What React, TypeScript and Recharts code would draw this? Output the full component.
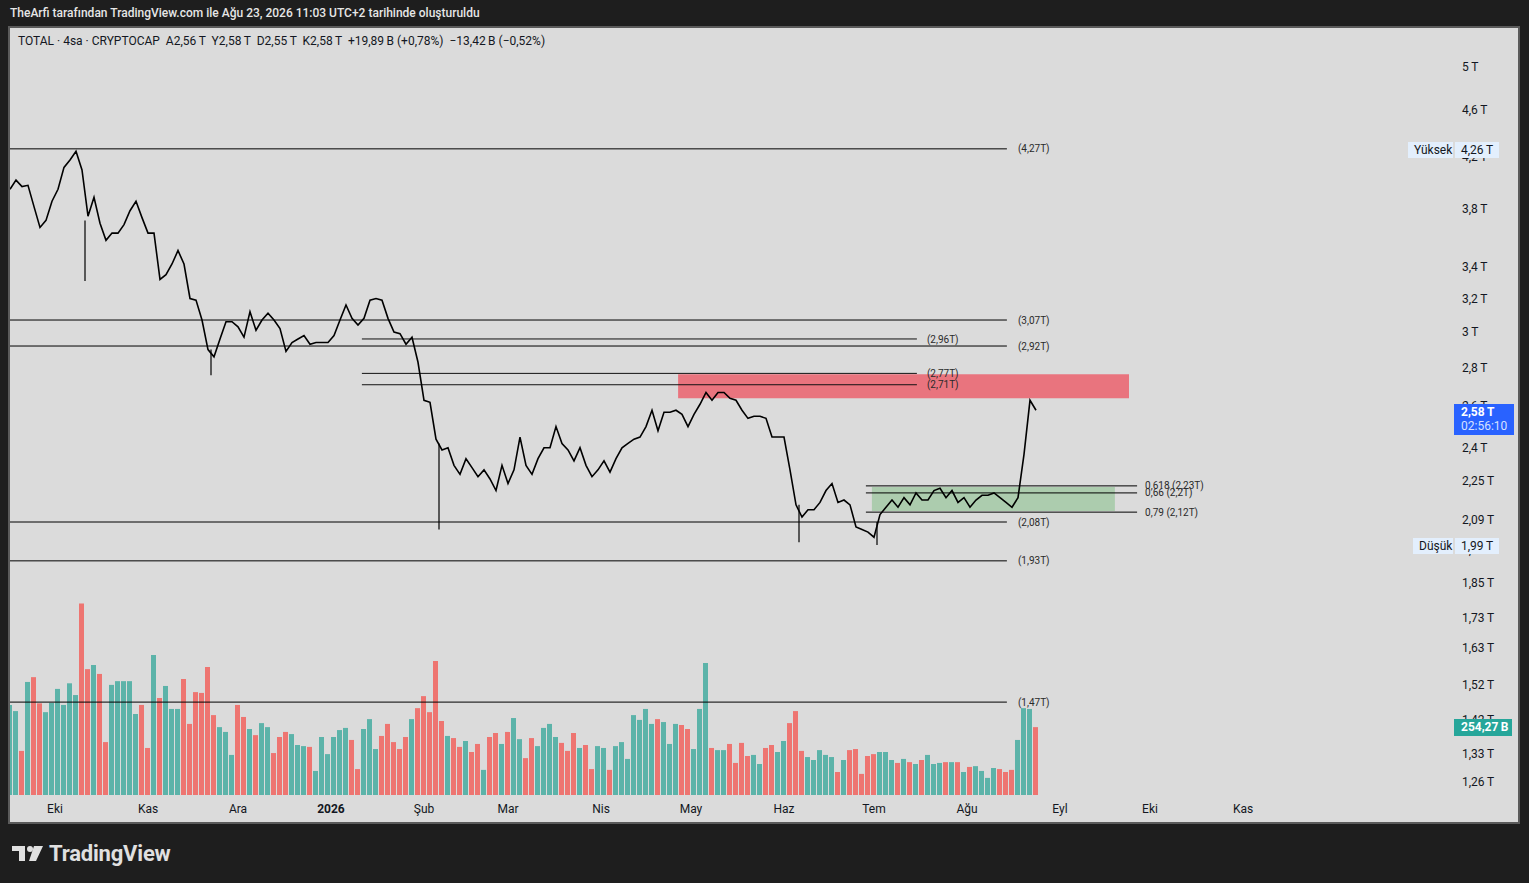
import React from "react"
import { ComposedChart, Line, Bar, Cell, XAxis, YAxis, ReferenceLine, ReferenceArea } from "recharts"

// gün 0 = 1 Eki 2025, veriler 2 günlük adımla (16 Eyl 2025 -> 23 Ağu 2026)
const firstDay = -15
const dayStep = 2

// kapanış, trilyon $
const closes = [
  3.95, 4.02, 3.97, 3.98, 3.82, 3.67, 3.72, 3.86, 3.95, 4.12,
  4.18, 4.25, 4.1, 3.75, 3.89, 3.7, 3.58, 3.63, 3.63, 3.69,
  3.79, 3.86, 3.74, 3.63, 3.63, 3.32, 3.35, 3.42, 3.51, 3.42,
  3.2, 3.19, 3.07, 2.9, 2.86, 2.96, 3.06, 3.06, 3.03, 2.97,
  3.12, 3.01, 3.07, 3.11, 3.07, 3.02, 2.89, 2.94, 2.96, 2.98,
  2.93, 2.94, 2.94, 2.94, 2.98, 3.07, 3.16, 3.08, 3.04, 3.08,
  3.19, 3.2, 3.19, 3.08, 3.0, 2.99, 2.93, 2.97, 2.83, 2.63,
  2.62, 2.44, 2.39, 2.4, 2.32, 2.28, 2.35, 2.31, 2.27, 2.3,
  2.26, 2.21, 2.32, 2.24, 2.3, 2.45, 2.32, 2.28, 2.35, 2.4,
  2.4, 2.5, 2.42, 2.39, 2.34, 2.4, 2.32, 2.27, 2.3, 2.34,
  2.29, 2.35, 2.4, 2.42, 2.44, 2.45, 2.5, 2.58, 2.48, 2.57,
  2.57, 2.58, 2.56, 2.5, 2.56, 2.61, 2.67, 2.63, 2.67, 2.67,
  2.64, 2.63, 2.58, 2.54, 2.55, 2.55, 2.54, 2.45, 2.45, 2.45,
  2.3, 2.15, 2.1, 2.13, 2.13, 2.16, 2.21, 2.24, 2.16, 2.17,
  2.15, 2.06, 2.05, 2.04, 2.02, 2.11, 2.14, 2.17, 2.14, 2.18,
  2.15, 2.2, 2.17, 2.17, 2.21, 2.22, 2.18, 2.21, 2.16, 2.18,
  2.14, 2.17, 2.19, 2.19, 2.2, 2.18, 2.16, 2.14, 2.18, 2.37,
  2.63, 2.58,
]

// hacim, milyar $
const volumes = [
  337, 314, 165, 423, 441, 343, 310, 345, 397, 337,
  418, 374, 717, 471, 486, 453, 198, 412, 426, 426,
  426, 303, 337, 176, 524, 363, 408, 322, 322, 434,
  266, 385, 382, 479, 299, 254, 236, 150, 337, 292,
  247, 224, 269, 254, 157, 217, 236, 228, 187, 183,
  180, 90, 217, 153, 217, 243, 251, 206, 97, 247,
  284, 172, 221, 266, 198, 172, 217, 284, 325, 370,
  310, 501, 277, 221, 213, 180, 202, 161, 191, 94,
  217, 232, 191, 236, 288, 209, 138, 213, 183, 251,
  266, 217, 195, 165, 232, 176, 187, 97, 183, 176,
  94, 183, 198, 135, 299, 281, 322, 266, 284, 273,
  191, 266, 262, 247, 172, 322, 494, 176, 168, 168,
  191, 120, 195, 146, 150, 116, 176, 187, 161, 202,
  269, 314, 165, 142, 131, 168, 150, 142, 86, 131,
  168, 172, 79, 146, 153, 161, 161, 131, 120, 135,
  123, 116, 131, 150, 116, 120, 123, 123, 123, 86,
  105, 108, 90, 64, 101, 97, 86, 94, 206, 325,
  322, 254,
]

// uzun fitiller
const wicks = [
  { day: 10, high: 3.72, low: 3.31 },
  { day: 52, high: 2.9, low: 2.76 },
  { day: 128, high: 2.42, low: 2.05 },
  { day: 248, high: 2.15, low: 2.0 },
  { day: 274, high: 2.08, low: 1.99 },
]

const monthDays = [0, 31, 61, 92, 123, 151, 182, 212, 243, 273, 304, 335, 365, 396]
const monthNames = ["Eki", "Kas", "Ara", "2026", "Şub", "Mar", "Nis", "May", "Haz", "Tem", "Ağu", "Eyl", "Eki", "Kas"]
const priceTicks = [1.26, 1.33, 1.42, 1.52, 1.63, 1.73, 1.85, 1.97, 2.09, 2.25, 2.4, 2.6, 2.8, 3, 3.2, 3.4, 3.8, 4.2, 4.6, 5]

const longLevels = [4.27, 3.07, 2.92, 2.08, 1.93, 1.47]
const shortLevels = [2.96, 2.77, 2.71]
const fibLevels = [
  { ratio: "0,618", value: 2.23 },
  { ratio: "0,66", value: 2.2 },
  { ratio: "0,79", value: 2.12 },
]

const TEAL = "#5cb3a9"
const RED = "#ee7571"
const FONT = "Roboto, 'Liberation Sans', sans-serif"

const comma = (v: number) => String(v).replace(".", ",")

const data = closes.map((close, i) => ({
  day: firstDay + i * dayStep,
  close,
  volume: volumes[i],
  up: i === 0 || close >= closes[i - 1],
}))

function MonthTick(props: any) {
  const { x, index } = props
  return (
    <text x={x} y={785} textAnchor="middle" fontSize={12} fill="#131722" fontFamily={FONT} fontWeight={monthNames[index] === "2026" ? 700 : 400}>
      {monthNames[index]}
    </text>
  )
}

function PriceTick(props: any) {
  const { y, payload } = props
  return (
    <text x={1452} y={y + 4} fontSize={12} fill="#131722" fontFamily={FONT}>
      {comma(payload.value)}{"\u2009"}T
    </text>
  )
}

const lineLabel = (text: string, offset: number) => ({
  value: text,
  position: "right" as const,
  offset,
  fontSize: 10,
  fill: "#2a2a2a",
  fontFamily: FONT,
})

function Badge({ left, top, width, height, bg, color, children }: any) {
  return (
    <div style={{ position: "absolute", left, top, width, height, background: bg, color, fontSize: 12, fontFamily: FONT, lineHeight: height + "px", paddingLeft: 6, boxSizing: "border-box" }}>
      {children}
    </div>
  )
}

export default function App() {
  return (
    <div style={{ position: "fixed", left: 0, top: 0, width: 1529, height: 883, background: "#1e1e1e", overflow: "hidden", fontFamily: FONT }}>
      <div style={{ position: "absolute", left: 10, top: 6, color: "#e6e6e6", fontSize: 12, fontWeight: 500 }}>
        TheArfi tarafından TradingView.com ile Ağu 23, 2026 11:03 UTC+2 tarihinde oluşturuldu
      </div>

      <div style={{ position: "absolute", left: 8, top: 26, width: 1512, height: 798, border: "2px solid #5a5a5a", boxSizing: "border-box", background: "#dbdbdb" }} />

      <div style={{ position: "absolute", left: 10, top: 28 }}>
        <ComposedChart width={1508} height={794} data={data} margin={{ top: 0, right: 0, bottom: 0, left: 0 }}>
          <XAxis dataKey="day" type="number" domain={[-15, 465]} ticks={monthDays} interval={0} tick={<MonthTick />} tickLine={false} axisLine={false} height={27} allowDataOverflow />
          <YAxis yAxisId="price" orientation="right" scale="log" domain={[1.229, 5.39]} ticks={priceTicks} interval={0} width={68} tick={<PriceTick />} tickLine={false} axisLine={false} allowDataOverflow />
          <YAxis yAxisId="vol" hide domain={[0, 2870]} />

          <Bar yAxisId="vol" dataKey="volume" barSize={5} isAnimationActive={false}>
            {data.map((d, i) => (
              <Cell key={i} fill={d.up ? TEAL : RED} />
            ))}
          </Bar>

          {longLevels.map((v) => (
            <ReferenceLine key={"l" + v} yAxisId="price" segment={[{ x: -15, y: v }, { x: 317.3, y: v }]} stroke="#000" strokeWidth={1} label={lineLabel(`(${comma(v)}T)`, 11)} />
          ))}
          {shortLevels.map((v) => (
            <ReferenceLine key={"s" + v} yAxisId="price" segment={[{ x: 102.3, y: v }, { x: 287.3, y: v }]} stroke="#111" strokeWidth={1} label={lineLabel(`(${comma(v)}T)`, 10)} />
          ))}

          <ReferenceArea yAxisId="price" x1={207.7} x2={358} y1={2.64} y2={2.765} fill="#f23645" fillOpacity={0.62} stroke="none" />
          <ReferenceArea yAxisId="price" x1={272.3} x2={353.3} y1={2.125} y2={2.225} fill="#4caf50" fillOpacity={0.32} stroke="none" />

          {fibLevels.map((f) => (
            <ReferenceLine key={"f" + f.ratio} yAxisId="price" segment={[{ x: 270.3, y: f.value }, { x: 360.7, y: f.value }]} stroke="#000" strokeWidth={1} label={lineLabel(`${f.ratio} (${comma(f.value)}T)`, 8)} />
          ))}

          {wicks.map((w) => (
            <ReferenceLine key={"w" + w.day} yAxisId="price" segment={[{ x: w.day, y: w.high }, { x: w.day, y: w.low }]} stroke="#000" strokeWidth={1.2} />
          ))}

          <Line yAxisId="price" dataKey="close" type="linear" stroke="#000" strokeWidth={1.6} dot={false} isAnimationActive={false} />
        </ComposedChart>
      </div>

      <div style={{ position: "absolute", left: 18, top: 34, color: "#131722", fontSize: 12, whiteSpace: "pre" }}>
        {"TOTAL · 4sa · CRYPTOCAP  A2,56\u2009T  Y2,58\u2009T  D2,55\u2009T  K2,58\u2009T  +19,89\u2009B (+0,78%)  −13,42\u2009B (−0,52%)"}
      </div>

      <Badge left={1408} top={142} width={45} height={16} bg="#e3effd" color="#131722">Yüksek</Badge>
      <Badge left={1455} top={142} width={44} height={16} bg="#e3effd" color="#131722">4,26{"\u2009"}T</Badge>
      <Badge left={1413} top={538} width={40} height={16} bg="#e3effd" color="#131722">Düşük</Badge>
      <Badge left={1455} top={538} width={44} height={16} bg="#e3effd" color="#131722">1,99{"\u2009"}T</Badge>

      <div style={{ position: "absolute", left: 1454, top: 404, width: 60, height: 31, background: "#2962ff", color: "#fff", fontSize: 12, paddingLeft: 7, boxSizing: "border-box", lineHeight: "14px", paddingTop: 1 }}>
        <div style={{ fontWeight: 700 }}>2,58{"\u2009"}T</div>
        <div style={{ color: "#d6e0ff" }}>02:56:10</div>
      </div>

      <div style={{ position: "absolute", left: 1454, top: 719, width: 58, height: 17, background: "#26a69a", color: "#fff", fontSize: 12, fontWeight: 700, paddingLeft: 7, boxSizing: "border-box", lineHeight: "17px" }}>
        254,27{"\u2009"}B
      </div>

      <div style={{ position: "absolute", left: 12, top: 841, display: "flex", alignItems: "center", color: "#e0e0e0" }}>
        <svg width="32" height="18" viewBox="0 0 32 18">
          <path d="M0 1 H13 V16 H7 V6 H0 Z" fill="#e0e0e0" />
          <circle cx="18" cy="4" r="3" fill="#e0e0e0" />
          <path d="M22 1 H31 L24 16 H17 Z" fill="#e0e0e0" />
        </svg>
        <span style={{ fontSize: 22, fontWeight: 700, marginLeft: 5, letterSpacing: -0.2 }}>TradingView</span>
      </div>
    </div>
  )
}
